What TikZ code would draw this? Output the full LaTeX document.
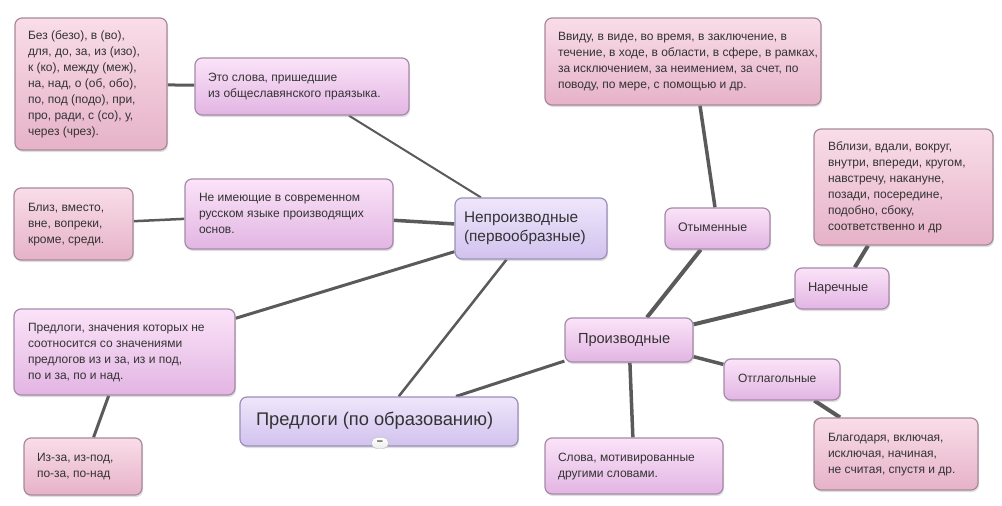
\documentclass[tikz,border=0pt]{standalone}
\usepackage{fontspec}
\setmainfont{Liberation Sans}
\usetikzlibrary{shadows,backgrounds}

\definecolor{pinktop}{HTML}{F9DDE8}
\definecolor{pinkbot}{HTML}{E6B2C7}
\definecolor{pinkline}{HTML}{A8899A}
\definecolor{liltop}{HTML}{FBE3F8}
\definecolor{lilbot}{HTML}{E2B5E3}
\definecolor{lilline}{HTML}{A58AA8}
\definecolor{lavtop}{HTML}{EFE6FB}
\definecolor{lavbot}{HTML}{D1C2EE}
\definecolor{lavline}{HTML}{9A8FB8}
\definecolor{conn}{HTML}{5A5A5A}
\definecolor{txt}{HTML}{333333}

\newcommand\boxtxt[2]{\makebox[#1][l]{\begin{tabular}{@{}l@{}}#2\end{tabular}}}

\begin{document}
\begin{tikzpicture}[x=1pt,y=-1pt,
  mapbox/.style={rectangle, rounded corners=7pt, line width=1.2pt,
    inner xsep=13pt, inner ysep=3pt, text=txt,
    font=\fontsize{12pt}{16pt}\selectfont,
    drop shadow={shadow xshift=1pt, shadow yshift=-2pt, opacity=0.25}},
  pinkbox/.style={mapbox, draw=pinkline, top color=pinktop, bottom color=pinkbot},
  lilbox/.style={mapbox, draw=lilline, top color=liltop, bottom color=lilbot},
  lavbox/.style={mapbox, draw=lavline, top color=lavtop, bottom color=lavbot},
  link/.style={draw=conn, line width=#1},
  link/.default=3pt
]
\useasboundingbox (0,0) rectangle (1002,506);

% left branch
\node[pinkbox, minimum width=152pt, minimum height=132pt] (bez) at (91,84)
  {\boxtxt{126pt}{Без (безо), в (во),\\для, до, за, из (изо),\\к (ко), между (меж),\\на, над, о (об, обо),\\по, под (подо), при,\\про, ради, с (со), у,\\через (чрез).}};
\node[lilbox, minimum width=214pt, minimum height=57pt] (eto) at (302,86.5)
  {\boxtxt{188pt}{Это слова, пришедшие\\из общеславянского праязыка.}};
\node[pinkbox, minimum width=119pt, minimum height=72pt, inner xsep=14pt] (bliz) at (73.5,224)
  {\boxtxt{91pt}{Близ, вместо,\\вне, вопреки,\\кроме, среди.}};
\node[lilbox, minimum width=208pt, minimum height=70pt, inner xsep=14pt] (neim) at (289,214)
  {\boxtxt{180pt}{Не имеющие в современном\\русском языке производящих\\основ.}};
\node[lavbox, minimum width=152pt, minimum height=61pt, inner xsep=9pt,
  font=\fontsize{15.4pt}{19pt}\selectfont] (neproizv) at (531,228.5)
  {\boxtxt{134pt}{Непроизводные\\(первообразные)}};
\node[lilbox, minimum width=221pt, minimum height=86pt, inner xsep=14pt] (znach) at (124.5,352)
  {\boxtxt{193pt}{Предлоги, значения которых не\\соотносится со значениями\\предлогов из и за, из и под,\\по и за, по и над.}};
\node[pinkbox, minimum width=118pt, minimum height=57pt] (izza) at (83,466.5)
  {\boxtxt{92pt}{Из-за, из-под,\\по-за, по-над}};

% root
\node[lavbox, minimum width=278pt, minimum height=49pt, inner xsep=16pt,
  font=\fontsize{18.3pt}{21pt}\selectfont] (root) at (379,421.5)
  {\boxtxt{246pt}{Предлоги (по образованию)}};
\node[draw=gray!60, top color=white, bottom color=gray!15, rounded corners=5pt, minimum width=17pt,
  minimum height=11pt, inner sep=0pt, text=txt,
  font=\fontsize{11pt}{11pt}\selectfont\bfseries] (collapse) at (380,443) {–};

% right branch
\node[pinkbox, minimum width=276pt, minimum height=87pt] (vvidu) at (683,61.5)
  {\boxtxt{250pt}{Ввиду, в виде, во время, в заключение, в\\течение, в ходе, в области, в сфере, в рамках,\\за исключением, за неимением, за счет, по\\поводу, по мере, с помощью и др.}};
\node[lilbox, minimum width=105pt, minimum height=41pt,
  font=\fontsize{12.4pt}{15pt}\selectfont] (otym) at (717.5,228.5)
  {\boxtxt{79pt}{Отыменные}};
\node[pinkbox, minimum width=179pt, minimum height=116pt, inner xsep=14pt] (vblizi) at (903.5,187)
  {\boxtxt{151pt}{Вблизи, вдали, вокруг,\\внутри, впереди, кругом,\\навстречу, накануне,\\позади, посередине,\\подобно, сбоку,\\соответственно и др}};
\node[lilbox, minimum width=94pt, minimum height=41pt,
  font=\fontsize{12.8pt}{15pt}\selectfont] (narech) at (842,288.5)
  {\boxtxt{68pt}{Наречные}};
\node[lilbox, minimum width=128pt, minimum height=44pt,
  font=\fontsize{14.6pt}{17pt}\selectfont] (proizv) at (629,340)
  {\boxtxt{102pt}{Производные}};
\node[lilbox, minimum width=116pt, minimum height=41pt, inner xsep=14pt] (otglag) at (782,379.5)
  {\boxtxt{88pt}{Отглагольные}};
\node[lilbox, minimum width=178pt, minimum height=56pt] (slova) at (634,466)
  {\boxtxt{152pt}{Слова, мотивированные\\другими словами.}};
\node[pinkbox, minimum width=164pt, minimum height=72pt, inner xsep=14pt] (blagod) at (896,454)
  {\boxtxt{136pt}{Благодаря, включая,\\исключая, начиная,\\не считая, спустя и др.}};

\begin{scope}[on background layer]
  \draw[link=3pt] (bez) -- (eto);
  \draw[link=2pt] (eto) -- (neproizv);
  \draw[link=2.5pt] (bliz) -- (neim);
  \draw[link=3.5pt] (neim) -- (neproizv);
  \draw[link=3pt] (neproizv) -- (znach);
  \draw[link=2.5pt] (neproizv) -- (root);
  \draw[link=3pt] (znach) -- (izza);
  \draw[link=3pt] (root) -- (proizv);
  \draw[link=4pt] (proizv) -- (otym);
  \draw[link=3.5pt] ([xshift=17pt]vvidu.south) -- ([xshift=-2.5pt]otym.north);
  \draw[link=4pt] (proizv) -- (narech);
  \draw[link=4pt] (narech) -- (vblizi);
  \draw[link=3.5pt] (proizv) -- (otglag);
  \draw[link=4pt] (otglag) -- (blagod);
  \draw[link=3.5pt] (proizv) -- (slova);
\end{scope}
\end{tikzpicture}
\end{document}
